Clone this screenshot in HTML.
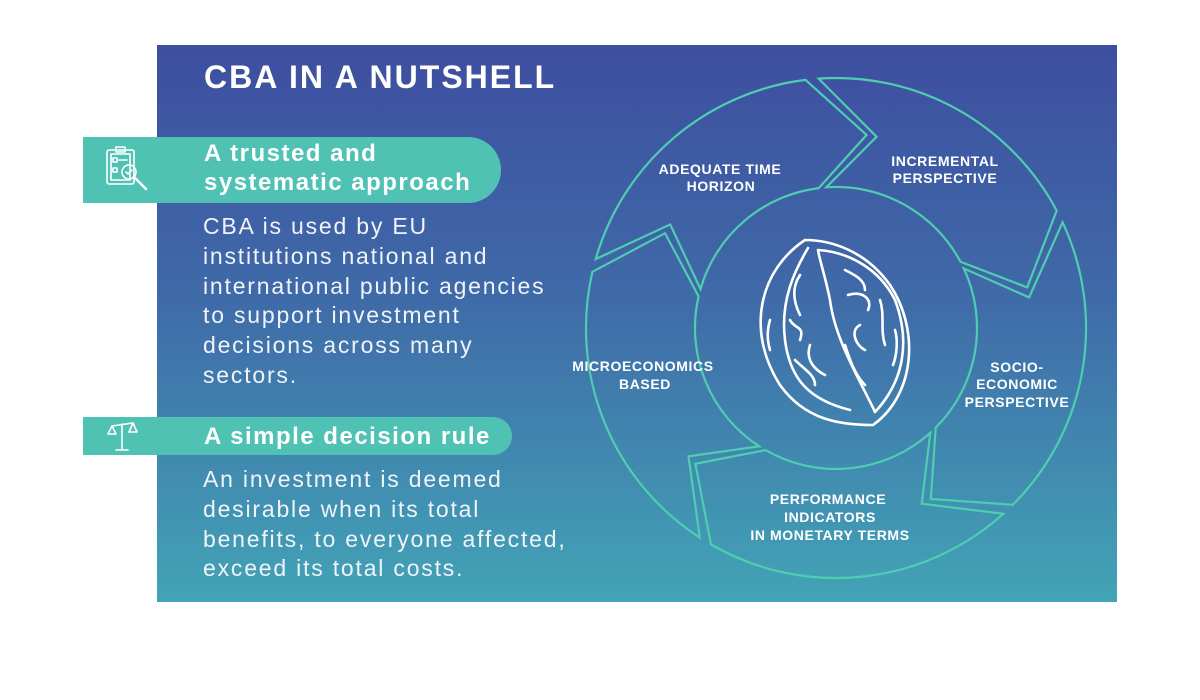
<!DOCTYPE html>
<html><head><meta charset="utf-8">
<style>
html,body{margin:0;padding:0;background:#fff;width:1200px;height:700px;overflow:hidden}
body{position:relative;font-family:"Liberation Sans",sans-serif}
#panel{position:absolute;left:157px;top:45px;width:960px;height:557px;background:linear-gradient(180deg,#3e4ea0 0%,#3f6aa8 45%,#42a4b6 100%)}
.t{position:absolute;color:#fff;white-space:nowrap}
#title{left:204px;top:59px;font-size:32px;font-weight:bold;letter-spacing:2px}
.ban{position:absolute;left:83px;background:#50c2b4;border-radius:0 34px 34px 0}
.h{font-weight:bold;font-size:24px;letter-spacing:1.5px;line-height:29px}
.b{font-size:23px;line-height:29.8px;letter-spacing:1.8px;color:#f0f4fa}
svg{position:absolute;left:0;top:0}
.lb{font-family:"Liberation Sans",sans-serif;font-weight:bold;font-size:14px;letter-spacing:0.6px;fill:#fff;text-anchor:middle}
</style></head><body>
<div id="panel"></div>
<div class="t" id="title">CBA IN A NUTSHELL</div>
<div class="ban" style="top:137px;width:418px;height:66px"></div>
<div class="ban" style="top:417px;width:429px;height:38px"></div>
<div class="t h" style="left:204px;top:139px">A trusted and<br>systematic approach</div>
<div class="t b" style="left:203px;top:212px">CBA is used by EU<br>institutions national and<br>international public agencies<br>to support investment<br>decisions across many<br>sectors.</div>
<div class="t h" style="left:204px;top:422px">A simple decision rule</div>
<div class="t b" style="left:203px;top:465px">An investment is deemed<br>desirable when its total<br>benefits, to everyone affected,<br>exceed its total costs.</div>
<svg width="1200" height="700" viewBox="0 0 1200 700">
<g fill="none" stroke="#fff" stroke-width="1.6" stroke-linecap="round" stroke-linejoin="round">
<rect x="107" y="150" width="27" height="34" rx="2"/>
<rect x="111" y="154" width="19" height="26"/>
<rect x="116" y="147" width="9" height="5"/>
<rect x="113" y="158" width="4" height="4"/><line x1="119" y1="160" x2="127" y2="160"/>
<rect x="113" y="168" width="4" height="4"/>
<circle cx="129" cy="172" r="7"/><path d="M126 172l2 2 4-4"/><line x1="134" y1="177" x2="146" y2="189" stroke-width="2.6"/>
<line x1="122" y1="424" x2="122" y2="449"/><line x1="112" y1="426" x2="133" y2="423"/>
<line x1="116" y1="450" x2="128" y2="450"/>
<path d="M112 426l-4 8h8z M133 423l-4 9h8z"/>
</g>
<g id="arr" fill="none" stroke="#4fcdb0" stroke-width="2.2" stroke-linejoin="miter"></g>
<g fill="none" stroke="#fff" stroke-width="2.6" stroke-linecap="round" stroke-linejoin="round">
<path d="M805 240 C760 270 745 330 780 385 C805 420 840 425 873 425 C915 395 920 330 890 285 C865 250 830 240 805 240 Z"/>
<path d="M808 248 C795 270 780 300 785 340 C790 380 810 400 850 410"/>
<path d="M818 250 C850 252 880 270 895 300 C910 340 905 380 875 412 C860 380 835 340 830 300 C825 275 820 262 818 250Z"/>
<path d="M800 275c-10 15-5 30 0 40M790 320c5 10 15 5 10 20M810 345c-5 15 5 25 15 30M795 360c10 10 20 15 20 25"/>
<path d="M845 270c10 5 20 10 20 20M848 295c15-5 25 5 20 15M860 325c-10 5-5 20 5 25M880 300c5 15 0 30 5 45M845 345c5 15 10 30 20 40"/>
<path d="M770 320c-3 10-3 20 0 30M895 330c3 10 2 25-2 35"/>
</g>
<text class="lb" x="720" y="174">ADEQUATE TIME</text><text class="lb" x="721" y="191">HORIZON</text>
<text class="lb" x="945" y="166">INCREMENTAL</text><text class="lb" x="945" y="183">PERSPECTIVE</text>
<text class="lb" x="1017" y="372">SOCIO-</text><text class="lb" x="1017" y="389">ECONOMIC</text><text class="lb" x="1017" y="407">PERSPECTIVE</text>
<text class="lb" x="643" y="371">MICROECONOMICS</text><text class="lb" x="645" y="389">BASED</text>
<text class="lb" x="828" y="504">PERFORMANCE</text><text class="lb" x="830" y="522">INDICATORS</text><text class="lb" x="830" y="540">IN MONETARY TERMS</text>
</svg>
<script>
(function(){
var cx=836,cy=328,R=250,r=141,m=(R+r)/2,tip=16,gap=3;
var b=[-97,-28,45,120,193];
function p(a,rad){a=a*Math.PI/180;return (cx+rad*Math.cos(a)).toFixed(1)+' '+(cy+rad*Math.sin(a)).toFixed(1);}
var g=document.getElementById('arr'),s='';
for(var i=0;i<5;i++){
 var a0=b[i]+gap, a1=b[(i+1)%5]; if(a1<a0)a1+=360;
 var d='M'+p(a0,R)+' A'+R+' '+R+' 0 0 1 '+p(a1,R)+' L'+p(a1+tip,m)+' L'+p(a1,r)+
  ' A'+r+' '+r+' 0 0 0 '+p(a0,r)+' L'+p(a0+tip,m)+' Z';
 s+='<path d="'+d+'"/>';
}
g.innerHTML=s;
})();
</script>
</body></html>
